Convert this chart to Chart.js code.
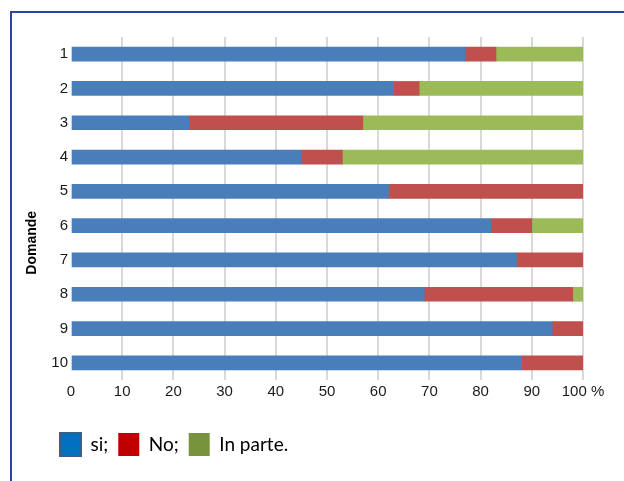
<!DOCTYPE html>
<html>
<head>
<meta charset="utf-8">
<script src="https://cdn.jsdelivr.net/npm/chart.js@4/dist/chart.umd.min.js"></script>
<style>
  html, body { margin: 0; padding: 0; background: #fff; }
  #wrap { position: relative; width: 624px; height: 481px; overflow: hidden; }
  #cornice { position: absolute; left: 10px; top: 11px; right: 0; bottom: 0;
             border-top: 2px solid #2B479A; border-left: 2px solid #2B479A; pointer-events: none; }
  canvas { position: absolute; left: 0; top: 0; }
</style>
</head>
<body>
<div id="wrap">
  <canvas id="grafico" width="624" height="481"></canvas>
  <div id="cornice"></div>
</div>
<script>
// domande 1..10, percentuali
const domande = ['1', '2', '3', '4', '5', '6', '7', '8', '9', '10'];
const si = [77, 63, 23, 45, 62, 82, 87, 69, 94, 88];
const no = [6, 5, 34, 8, 38, 8, 13, 29, 6, 12];
const inParte = [17, 32, 43, 47, 0, 10, 0, 2, 0, 0];
const tickX = [0, 10, 20, 30, 40, 50, 60, 70, 80, 90, 100];

const coloriBarre = ['#4A7EBB', '#C0504D', '#9BBB59'];
const coloriLegenda = ['#0070C0', '#C00000', '#77933C'];
const bordiLegenda = ['#3A5E8C', '#C00000', '#77933C'];

// titolo asse y disegnato a mano (nel grafico originale è spostato in basso)
const titoloAsseY = {
    id: 'titoloAsseY',
    afterDraw(chart) {
        const ctx = chart.ctx;
        const area = chart.chartArea;
        ctx.save();
        ctx.translate(32, area.top + (area.bottom - area.top) * 0.6);
        ctx.rotate(-Math.PI / 2);
        ctx.font = 'bold 14px "Liberation Sans", Arial, sans-serif';
        ctx.fillStyle = '#000';
        ctx.textAlign = 'center';
        ctx.textBaseline = 'middle';
        ctx.fillText('Domande', 0, 0);
        ctx.restore();
    }
};

const grafico = new Chart(document.getElementById('grafico').getContext('2d'), {
    type: 'bar',
    data: {
        labels: domande,
        datasets: [
            { label: 'si;', data: si, backgroundColor: coloriBarre[0] },
            { label: 'No;', data: no, backgroundColor: coloriBarre[1] },
            { label: 'In parte.', data: inParte, backgroundColor: coloriBarre[2] }
        ]
    },
    options: {
        responsive: false,
        animation: false,
        indexAxis: 'y',
        barThickness: 14,
        layout: { padding: { left: 50, right: 41, top: 37, bottom: 15 } },
        scales: {
            x: {
                stacked: true,
                min: 0,
                max: 100,
                afterBuildTicks: scale => { scale.ticks = tickX.map(v => ({ value: v })); },
                afterFit: scale => { scale.height = 43; },
                border: { display: false },
                grid: {
                    drawTicks: false,
                    lineWidth: 2,
                    color: ctx => ctx.tick && ctx.tick.value === 0 ? 'rgba(0,0,0,0)' : '#D9D9D9'
                },
                ticks: {
                    padding: 3,
                    maxRotation: 0,
                    color: '#1a1a1a',
                    font: { family: '"Liberation Sans", Arial, sans-serif', size: 15 },
                    callback: v => v === 100 ? '100 %' : v
                }
            },
            y: {
                stacked: true,
                afterFit: scale => { scale.width = 21; },
                border: { display: false },
                grid: { display: false, drawTicks: false },
                ticks: {
                    padding: 3,
                    color: '#1a1a1a',
                    font: { family: '"Liberation Sans", Arial, sans-serif', size: 15 }
                }
            }
        },
        plugins: {
            tooltip: { enabled: false },
            legend: {
                position: 'bottom',
                align: 'start',
                labels: {
                    boxWidth: 21,
                    boxHeight: 23,
                    padding: 10,
                    color: '#1a1a1a',
                    font: { family: 'Lato, "Open Sans", sans-serif', size: 19 },
                    generateLabels: chart => chart.data.datasets.map((ds, i) => ({
                        text: ds.label,
                        fillStyle: coloriLegenda[i],
                        strokeStyle: bordiLegenda[i],
                        lineWidth: i === 0 ? 2 : 0,
                        datasetIndex: i,
                        hidden: false
                    }))
                }
            }
        }
    },
    plugins: [titoloAsseY]
});
</script>
</body>
</html>
